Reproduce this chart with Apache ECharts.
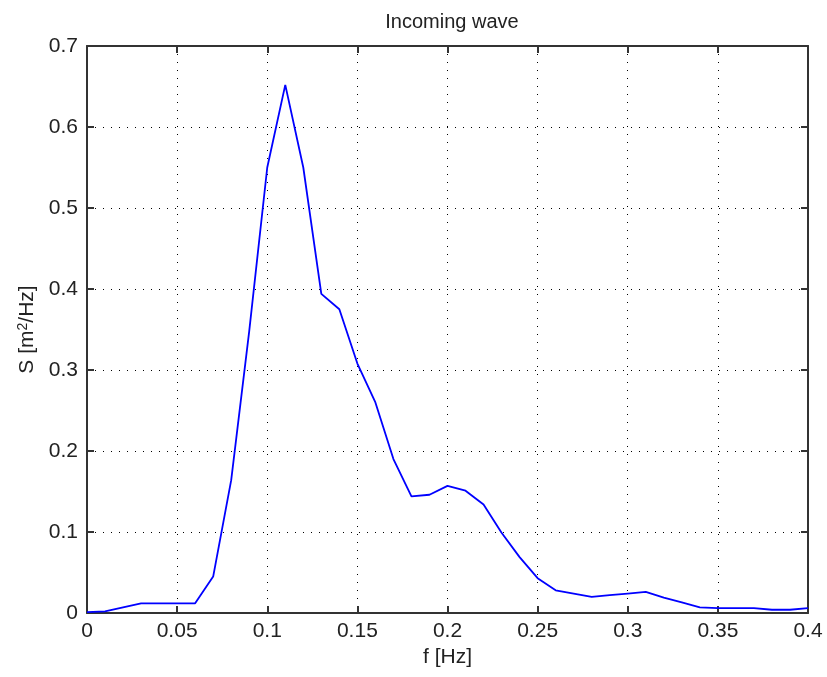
<!DOCTYPE html>
<html>
<head>
<meta charset="utf-8">
<script src="https://cdn.jsdelivr.net/npm/echarts@6/dist/echarts.min.js"></script>
<style>
  html, body { margin: 0; padding: 0; background: #fff; }
  #chart { width: 827px; height: 677px; }
</style>
</head>
<body>
<div id="chart"></div>
<script>
// Frequency grid [Hz]
const freq = [0, 0.01, 0.02, 0.03, 0.04, 0.05, 0.06, 0.07, 0.08, 0.09,
              0.10, 0.11, 0.12, 0.13, 0.14, 0.15, 0.16, 0.17, 0.18, 0.19,
              0.20, 0.21, 0.22, 0.23, 0.24, 0.25, 0.26, 0.27, 0.28, 0.29,
              0.30, 0.31, 0.32, 0.33, 0.34, 0.35, 0.36, 0.37, 0.38, 0.39, 0.40];
// Spectral density S [m^2/Hz]
const spectrum = [0.001, 0.002, 0.007, 0.012, 0.012, 0.012, 0.012, 0.045, 0.164, 0.348,
                  0.550, 0.652, 0.550, 0.394, 0.375, 0.308, 0.260, 0.190, 0.144, 0.146,
                  0.157, 0.151, 0.134, 0.099, 0.069, 0.043, 0.028, 0.024, 0.020, 0.022,
                  0.024, 0.026, 0.019, 0.013, 0.007, 0.006, 0.006, 0.006, 0.004, 0.004, 0.006];
const xTicks = [0, 0.05, 0.1, 0.15, 0.2, 0.25, 0.3, 0.35, 0.4];
const yTicks = [0, 0.1, 0.2, 0.3, 0.4, 0.5, 0.6, 0.7];

const font = '"Liberation Sans", Arial, sans-serif';
const axisColor = '#333';
const textColor = '#222';
const fmt = v => String(Math.round(v * 100) / 100);

const points = freq.map((f, i) => [f, spectrum[i]]);

const xRange = { min: xTicks[0], max: xTicks[xTicks.length - 1], interval: xTicks[1] - xTicks[0] };
const yRange = { min: yTicks[0], max: yTicks[yTicks.length - 1], interval: yTicks[1] - yTicks[0] };

const frameLine = { show: true, onZero: false, lineStyle: { color: axisColor, width: 2 } };
const innerTick = { show: true, inside: true, length: 7, lineStyle: { color: axisColor, width: 2 } };
const dotted = { show: true, lineStyle: { color: '#000', width: 1, type: [1, 7] } };

const chart = echarts.init(document.getElementById('chart'), null, { renderer: 'canvas' });
chart.setOption({
  animation: false,
  backgroundColor: '#fff',
  title: {
    text: 'Incoming wave',
    left: 447, top: 7, textAlign: 'center',
    textStyle: { fontFamily: font, fontSize: 20, fontWeight: 'normal', color: textColor }
  },
  grid: { left: 87, right: 19, top: 46, bottom: 64 },
  xAxis: [
    Object.assign({ type: 'value', position: 'bottom' }, xRange, {
      axisLine: frameLine, axisTick: innerTick,
      name: 'f [Hz]', nameLocation: 'middle', nameGap: 34,
      nameTextStyle: { fontFamily: font, fontSize: 21, color: textColor },
      axisLabel: { margin: 8, fontFamily: font, fontSize: 21, color: textColor, formatter: fmt },
      splitLine: dotted
    }),
    Object.assign({ type: 'value', position: 'top' }, xRange, {
      axisLine: frameLine, axisTick: innerTick,
      axisLabel: { show: false }, splitLine: { show: false }
    })
  ],
  yAxis: [
    Object.assign({ type: 'value', position: 'left' }, yRange, {
      axisLine: frameLine, axisTick: innerTick,
      name: 'S [m{sup|2}/Hz]', nameLocation: 'middle', nameGap: 48, nameRotate: 90,
      nameTextStyle: {
        fontFamily: font, fontSize: 21, color: textColor,
        rich: { sup: { fontFamily: font, fontSize: 14, color: textColor, verticalAlign: 'top', padding: [0, 0, 9, 0] } }
      },
      axisLabel: { margin: 9, fontFamily: font, fontSize: 21, color: textColor, formatter: fmt },
      splitLine: dotted
    }),
    Object.assign({ type: 'value', position: 'right' }, yRange, {
      axisLine: frameLine, axisTick: innerTick,
      axisLabel: { show: false }, splitLine: { show: false }
    })
  ],
  series: [{
    type: 'line',
    data: points,
    xAxisIndex: 0, yAxisIndex: 0,
    showSymbol: false,
    smooth: false,
    lineStyle: { color: '#0000ff', width: 1.8 },
    itemStyle: { color: '#0000ff' },
    z: 5
  }]
});
</script>
</body>
</html>
